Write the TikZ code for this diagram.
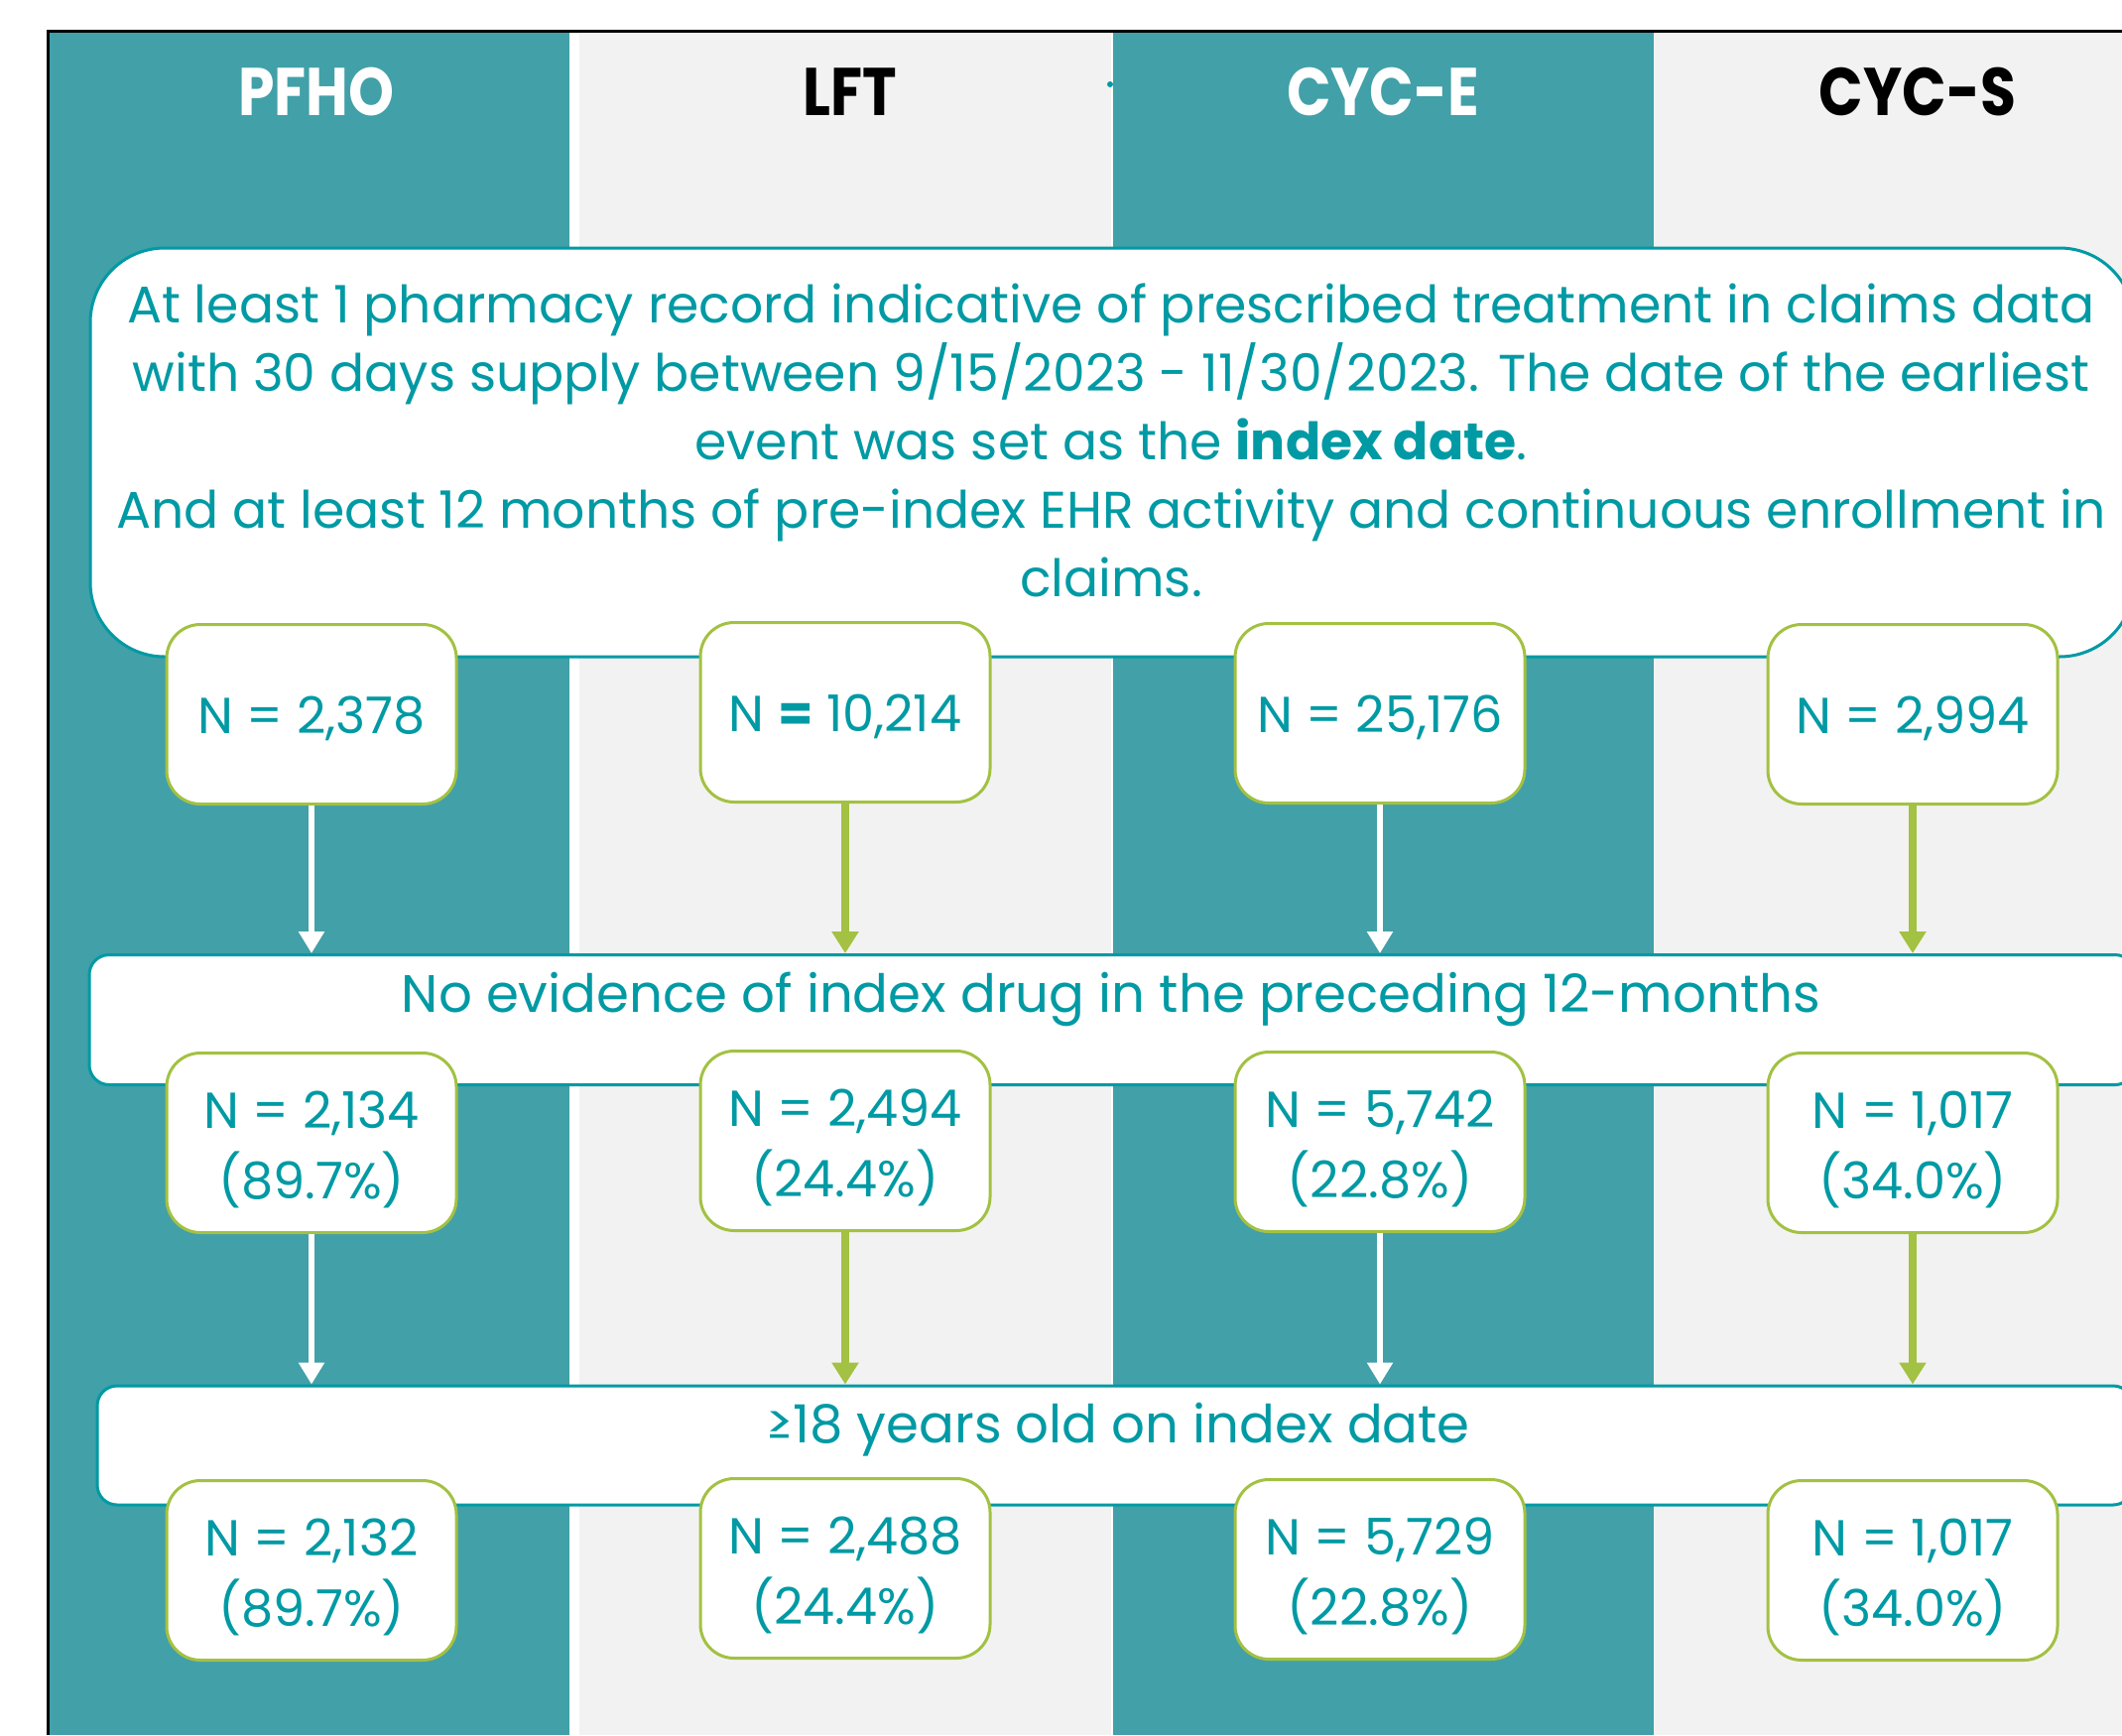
\documentclass[tikz,border=0pt]{standalone}
\usepackage{fontspec}
\setmainfont{Poppins}
\usetikzlibrary{arrows.meta}
\definecolor{colteal}{RGB}{66,160,168}
\definecolor{lineteal}{RGB}{0,154,164}
\definecolor{colgray}{RGB}{242,242,242}
\definecolor{boxgreen}{RGB}{163,193,66}
\begin{document}
\begin{tikzpicture}[x=1pt,y=-1pt,
  widebox/.style={draw=lineteal, line width=3pt, fill=white, rounded corners=20pt, inner sep=0pt},
  lbl/.style={text=lineteal, align=center, inner sep=0pt},
  nbox/.style={draw=boxgreen, line width=3pt, fill=white, rounded corners=34pt,
    minimum width=292pt, minimum height=181pt, inner sep=0pt},
  ntext/.style={lbl, font=\fontsize{51}{71}\selectfont},
  head/.style={font=\fontsize{68}{70}\selectfont\bfseries, inner sep=0pt},
  warrow/.style={draw=white, line width=6pt, -{Triangle[width=25pt,length=22pt]}},
  garrow/.style={draw=boxgreen, line width=8pt, -{Triangle[width=26pt,length=22pt]}}
]
\useasboundingbox (0,0) rectangle (2139,1749);
\clip (0,0) rectangle (2139,1749);
% columns
\fill[colteal] (50,31) rectangle (574,1749);
\fill[colgray] (584,31) rectangle (1120,1749);
\fill[colteal] (1122,31) rectangle (1667,1749);
\fill[colgray] (1667,31) rectangle (2139,1749);
\draw[black, line width=3pt] (48,1749) -- (48,31) -- (2139,31);
% headers
\node[head, text=white] (hPFHO) at (319,93) {\scalebox{0.86}[1]{PFHO}};
\node[head, text=black] (hLFT) at (857,93) {\scalebox{0.86}[1]{LFT}};
\node[head, text=white] (hCYCE) at (1394,93) {\scalebox{0.86}[1]{CYC-E}};
\node[head, text=black] (hCYCS) at (1933,93) {\scalebox{0.86}[1]{CYC-S}};
\fill[lineteal] (1119,85) circle (3pt);
% criterion 1
\node[widebox, rounded corners=75pt, minimum width=2060pt, minimum height=412pt] (crit1) at (1121,456) {};
\node[lbl, font=\fontsize{52}{69}\selectfont] (crit1txt) at (1120,444) {At least 1 pharmacy record indicative of prescribed treatment in claims data\\
with 30 days supply between 9/15/2023 - 11/30/2023. The date of the earliest\\
event was set as the \textbf{index date}.\\
And at least 12 months of pre-index EHR activity and continuous enrollment in\\
claims.};
% row 1
\node[nbox] (a1) at (314,720) {};
\node[nbox] (b1) at (852,718) {};
\node[nbox] (c1) at (1391,719) {};
\node[nbox] (d1) at (1928,720) {};
\node[ntext] (a1t) at ([yshift=-4pt]a1.center) {N = 2,378};
\node[ntext] (b1t) at ([yshift=-4pt]b1.center) {N {\bfseries =} 10,214};
\node[ntext] (c1t) at ([yshift=-4pt]c1.center) {N = 25,176};
\node[ntext] (d1t) at ([yshift=-4pt]d1.center) {N = 2,994};
% criterion 2
\node[widebox, minimum width=2062pt, minimum height=131pt] (crit2) at (1121,1028) {};
\node[lbl, font=\fontsize{53}{70}\selectfont] (crit2txt) at (1120,1007) {No evidence of index drug in the preceding 12-months};
\draw[warrow] (a1.south) -- (a1.south |- crit2.north);
\draw[garrow] (b1.south) -- (b1.south |- crit2.north);
\draw[warrow] (c1.south) -- (c1.south |- crit2.north);
\draw[garrow] (d1.south) -- (d1.south |- crit2.north);
% row 2
\node[nbox] (a2) at (314,1152) {};
\node[nbox] (b2) at (852,1150) {};
\node[nbox] (c2) at (1391,1151) {};
\node[nbox] (d2) at (1928,1152) {};
\node[ntext] (a2t) at ([yshift=-7pt]a2.center) {N = 2,134\\(89.7\%)};
\node[ntext] (b2t) at ([yshift=-7pt]b2.center) {N = 2,494\\(24.4\%)};
\node[ntext] (c2t) at ([yshift=-7pt]c2.center) {N = 5,742\\(22.8\%)};
\node[ntext] (d2t) at ([yshift=-7pt]d2.center) {N = 1,017\\(34.0\%)};
% criterion 3
\node[widebox, minimum width=2052pt, minimum height=120pt] (crit3) at (1124,1457) {};
\node[lbl, font=\fontsize{53}{70}\selectfont] (crit3txt) at (1127,1441) {≥18 years old on index date};
\draw[warrow] (a2.south) -- (a2.south |- crit3.north);
\draw[garrow] (b2.south) -- (b2.south |- crit3.north);
\draw[warrow] (c2.south) -- (c2.south |- crit3.north);
\draw[garrow] (d2.south) -- (d2.south |- crit3.north);
% row 3
\node[nbox] (a3) at (314,1583) {};
\node[nbox] (b3) at (852,1581) {};
\node[nbox] (c3) at (1391,1582) {};
\node[nbox] (d3) at (1928,1583) {};
\node[ntext] (a3t) at ([yshift=-7pt]a3.center) {N = 2,132\\(89.7\%)};
\node[ntext] (b3t) at ([yshift=-7pt]b3.center) {N = 2,488\\(24.4\%)};
\node[ntext] (c3t) at ([yshift=-7pt]c3.center) {N = 5,729\\(22.8\%)};
\node[ntext] (d3t) at ([yshift=-7pt]d3.center) {N = 1,017\\(34.0\%)};
\end{tikzpicture}
\end{document}
